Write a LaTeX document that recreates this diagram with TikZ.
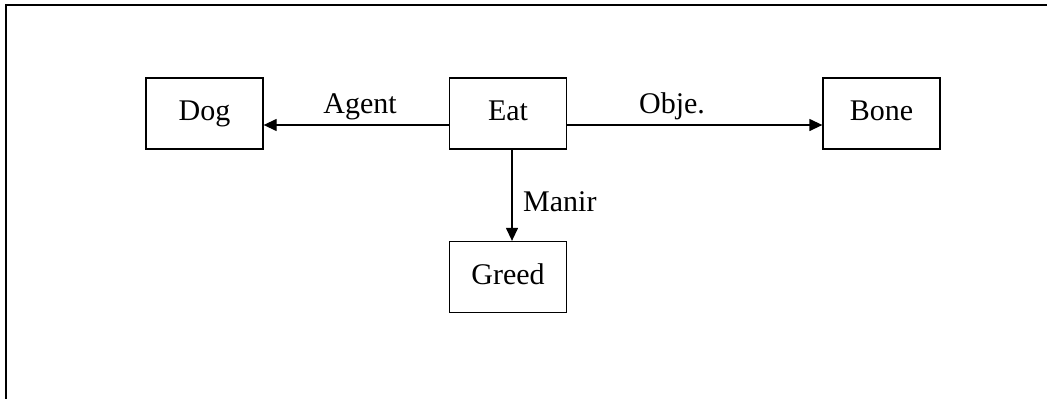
\documentclass[tikz,border=0pt]{standalone}
\usepackage{fontspec}
\setmainfont{Liberation Serif}
\usetikzlibrary{arrows.meta}
\begin{document}
\begin{tikzpicture}[x=1pt,y=-1pt,
  concept/.style={draw, line width=1.3pt, minimum width=117pt, minimum height=71pt,
    inner sep=0pt, font=\fontsize{30}{36}\selectfont, text height=21pt, text depth=7pt},
  rel/.style={font=\fontsize{30}{36}\selectfont, inner sep=0pt},
  arr/.style={line width=1.3pt, -{Triangle[length=13pt,width=12pt]}}]
  \useasboundingbox (0,0) rectangle (1047,399);
  % open frame: top and left sides only
  \draw[line width=2pt] (1047,4.5) -- (6,4.5) -- (6,399);
  % concepts
  \node[concept] (dog)   at (204.5,113.5) {Dog};
  \node[concept] (eat)   at (508,113.5)   {Eat};
  \node[concept] (bone)  at (881.5,113.5) {Bone};
  \node[concept] (greed) at (508,277)     {Greed};
  % relations
  \draw[arr] ([yshift=-11.5pt]eat.west) -- ([yshift=-11.5pt]dog.east);
  \draw[arr] ([yshift=-11.5pt]eat.east) -- ([yshift=-11.5pt]bone.west);
  \draw[arr] ([xshift=4pt]eat.south) -- ([xshift=4pt]greed.north);
  \node[rel, anchor=base] (agent) at (360,113) {Agent};
  \node[rel, anchor=base] (obje)  at (672,113) {Obje.};
  \node[rel, anchor=base west] (manir) at (523,211) {Manir};
\end{tikzpicture}
\end{document}
